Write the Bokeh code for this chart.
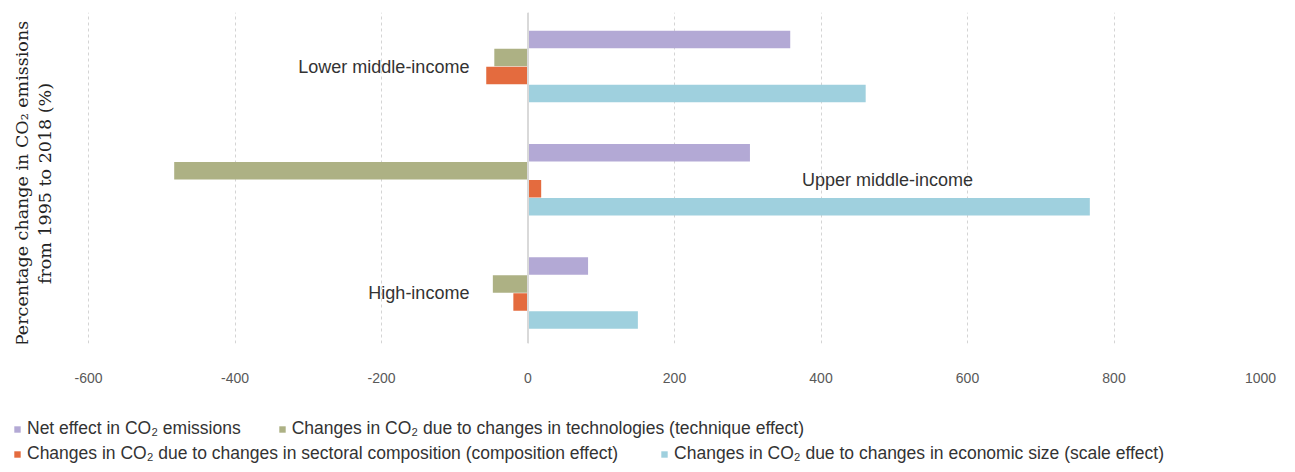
import math
from bokeh.plotting import figure
from bokeh.layouts import column
from bokeh.models import Range1d, ColumnDataSource, Legend, LegendItem, Span, FixedTicker, Label
from bokeh.transform import dodge
from bokeh.embed import file_html
from bokeh.resources import INLINE
from bokeh.core.properties import value

# ---------------- data ----------------
groups = ["Lower middle-income", "Upper middle-income", "High-income"]
net_effect = [358, 303, 82]
technique_effect = [-46, -483, -48]
composition_effect = [-57, 18, -20]
scale_effect = [461, 767, 150]
x_ticks = [-600, -400, -200, 0, 200, 400, 600, 800, 1000]
y_title_lines = ["Percentage change in CO\u2082 emissions", "from 1995 to 2018 (%)"]
series_names = [
    "Net effect in CO\u2082 emissions",
    "Changes in CO\u2082 due to changes in technologies (technique effect)",
    "Changes in CO\u2082 due to changes in sectoral composition (composition effect)",
    "Changes in CO\u2082 due to changes in economic size (scale effect)",
]

# ---------------- layout / style ----------------
colors = ["#B3A9D5", "#ADB184", "#E46B3E", "#9FD0DE"]
group_pos = [2, 1, 0]                 # vertical slot of each group (top to bottom)
bar_step = 0.159
bar_h = 0.156
offsets = [1.5 * bar_step, 0.5 * bar_step, -0.5 * bar_step, -1.5 * bar_step]
label_anchor_x = [-80, 374, -80]
label_align = ["right", "left", "right"]
cols = ["net", "tech", "comp", "scale"]
SANS = "Liberation Sans"
TOTAL_W = 1287
PLOT_LEFT_PX = 88          # where the -600 gridline sits
PLOT_AXIS_W = 1172         # pixels spanned by -600 .. 1000
x_min = x_ticks[0] - PLOT_LEFT_PX * (x_ticks[-1] - x_ticks[0]) / PLOT_AXIS_W

src = ColumnDataSource(dict(
    y=group_pos,
    net=net_effect,
    tech=technique_effect,
    comp=composition_effect,
    scale=scale_effect,
))

p = figure(
    width=TOTAL_W, height=400,
    x_range=Range1d(x_min, x_ticks[-1]), y_range=Range1d(-0.446, 2.477),
    min_border_left=0, min_border_right=27, min_border_top=12, min_border_bottom=57,
    y_axis_location=None,
    output_backend="svg", toolbar_location=None,
)
p.outline_line_color = None
p.background_fill_color = "white"
p.border_fill_color = "white"

# grid
p.ygrid.grid_line_color = None
p.xgrid.ticker = FixedTicker(ticks=x_ticks)
p.xgrid.grid_line_color = "#D4D4D4"
p.xgrid.grid_line_dash = "3 3"
p.xgrid.grid_line_width = 1
p.add_layout(Span(location=0, dimension="height", line_color="#D9D9D9", line_width=2))

# bars
for col, off, c in zip(cols, offsets, colors):
    p.hbar(y=dodge("y", off, range=p.y_range), right=col, left=0, height=bar_h,
           source=src, fill_color=c, line_color=None)

# group labels
for name, gx, gy, al in zip(groups, label_anchor_x, group_pos, label_align):
    p.text(x=[gx], y=[gy], text=[name], text_align=al, text_baseline="middle",
           text_font=value(SANS), text_font_size="18px", text_color="#333333")

# x axis
p.xaxis.ticker = FixedTicker(ticks=x_ticks)
p.xaxis.major_label_overrides = {t: str(t) for t in x_ticks}
p.xaxis.axis_line_color = None
p.xaxis.major_tick_line_color = None
p.xaxis.minor_tick_line_color = None
p.xaxis.major_tick_out = 0
p.xaxis.major_label_standoff = 29
p.xaxis.major_label_text_font = SANS
p.xaxis.major_label_text_font_size = "14px"
p.xaxis.major_label_text_color = "#595959"

# vertical axis title (two rotated lines at the left edge)
for line_text, lx in zip(y_title_lines, [21, 44]):
    p.add_layout(Label(
        x=lx, y=160, x_units="screen", y_units="screen", text=line_text,
        angle=90, angle_units="deg", text_align="center", text_baseline="middle",
        text_font="DejaVu Serif", text_font_size="17.5px", text_color="#222222",
    ))

# ---------------- legend strip (separate figure below) ----------------
lg = figure(
    width=TOTAL_W, height=64,
    x_range=Range1d(x_min, x_ticks[-1]), y_range=Range1d(10, 11),   # bars stay out of view here
    min_border=0, output_backend="svg", toolbar_location=None,
    x_axis_location=None, y_axis_location=None,
)
lg.outline_line_color = None
lg.grid.grid_line_color = None
lg_renderers = []
for col, off, c in zip(cols, offsets, colors):
    r = lg.hbar(y=dodge("y", off, range=lg.y_range), right=col, left=0, height=bar_h,
                source=src, fill_color=c, line_color=None)
    lg_renderers.append(r)

def make_legend(idx, loc, gap):
    return Legend(
        items=[LegendItem(label=series_names[i], renderers=[lg_renderers[i]]) for i in idx],
        orientation="horizontal", location=loc,
        glyph_width=8, glyph_height=8, label_standoff=6, spacing=gap,
        label_text_font=SANS, label_text_font_size="17.5px", label_text_color="#333333",
        label_height=18, padding=0, margin=0, border_line_color=None,
        background_fill_alpha=0,
    )

lg.add_layout(make_legend([0, 1], (13, 25), 37))
lg.add_layout(make_legend([2, 3], (13, 0), 42))

layout = column(p, lg, spacing=0)
open("out.html", "w").write(file_html(layout, INLINE))
